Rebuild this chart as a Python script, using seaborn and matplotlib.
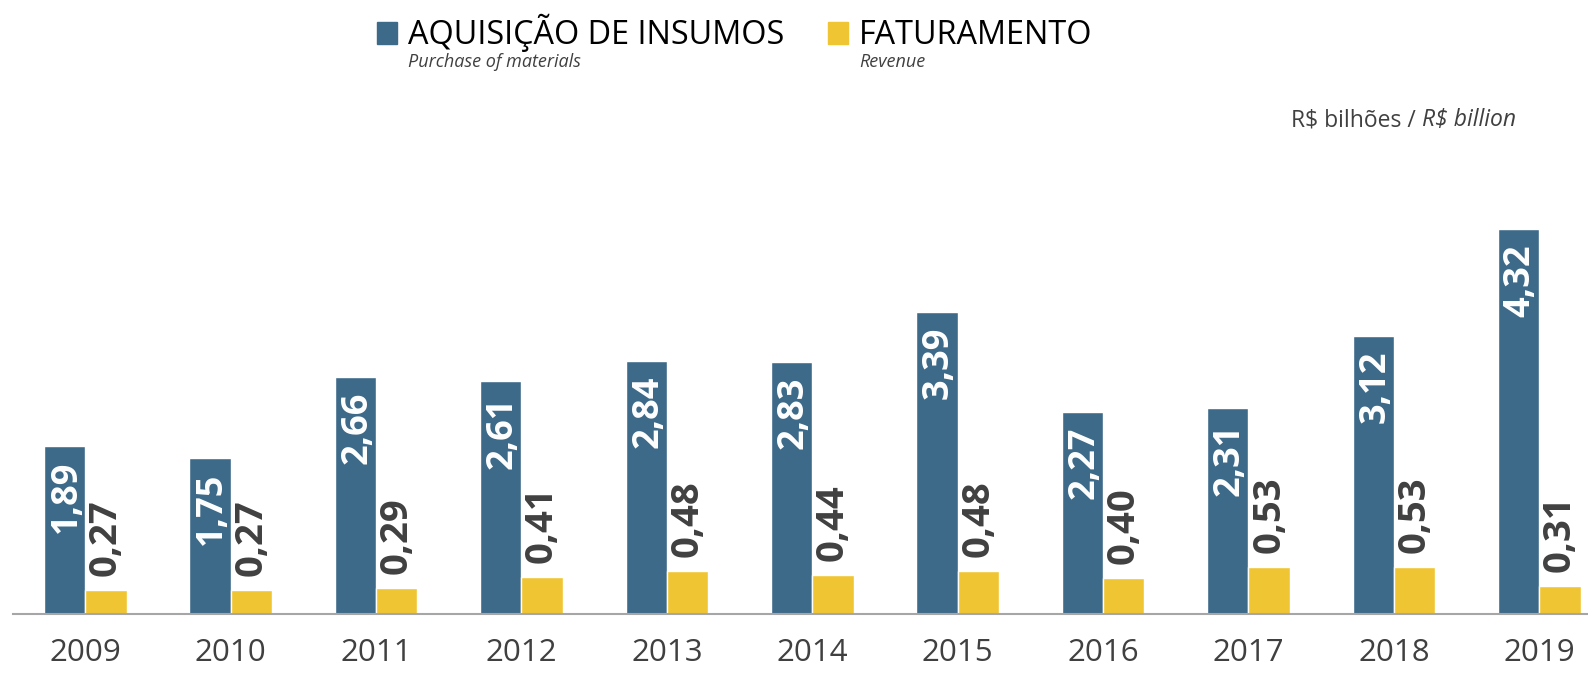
"""Bar chart: aquisição de insumos vs faturamento, 2009-2019."""

import matplotlib

matplotlib.use("Agg")
import matplotlib.pyplot as plt
import pandas as pd
import seaborn as sns
from matplotlib.patches import Rectangle

YEARS = ["2009", "2010", "2011", "2012", "2013", "2014", "2015", "2016", "2017", "2018", "2019"]
AQUISICAO = [1.89, 1.75, 2.66, 2.61, 2.84, 2.83, 3.39, 2.27, 2.31, 3.12, 4.32]
FATURAMENTO = [0.27, 0.27, 0.29, 0.41, 0.48, 0.44, 0.48, 0.40, 0.53, 0.53, 0.31]
SERIES = ["AQUISIÇÃO DE INSUMOS", "FATURAMENTO"]
SUBTITLES = ["Purchase of materials", "Revenue"]

BLUE = "#3E6A89"
YELLOW = "#F0C533"
DARK = "#404040"
W, H = 1588, 678


def fmt(value: float) -> str:
    return f"{value:.2f}".replace(".", ",")


def main() -> None:
    sns.set_theme(style="white")
    plt.rcParams["font.family"] = ["Open Sans", "DejaVu Sans"]

    df = pd.DataFrame(
        {
            "year": YEARS * 2,
            "value": AQUISICAO + FATURAMENTO,
            "serie": [SERIES[0]] * len(YEARS) + [SERIES[1]] * len(YEARS),
        }
    )

    fig = plt.figure(figsize=(W / 100, H / 100), dpi=100)
    ax = fig.add_axes([13 / W, (H - 614) / H, (W - 13) / W, 445.5 / H])

    sns.barplot(
        data=df,
        x="year",
        y="value",
        hue="serie",
        palette=[BLUE, YELLOW],
        width=0.568,
        gap=0,
        saturation=1,
        legend=False,
        ax=ax,
    )

    ax.set_xlim(-0.497, 10.335)
    ax.set_ylim(0, 5)
    ax.set_xlabel("")
    ax.set_ylabel("")
    ax.set_yticks([])
    for side in ["left", "right", "top"]:
        ax.spines[side].set_visible(False)
    ax.spines["bottom"].set_color("#A6A6A6")
    ax.spines["bottom"].set_linewidth(1.5)
    # pad kept small enough that the label box stays inside the canvas
    ax.tick_params(axis="x", length=0, pad=17, labelsize=22.5, labelcolor=DARK)

    blue_bars, yellow_bars = ax.containers
    for patch, value in zip(blue_bars, AQUISICAO):
        ax.annotate(
            fmt(value),
            (patch.get_x() + patch.get_width() / 2, patch.get_height()),
            xytext=(2, -15),
            textcoords="offset pixels",
            rotation=90,
            ha="center",
            va="top",
            color="white",
            fontsize=26,
            fontweight="bold",
        )
    for patch, value in zip(yellow_bars, FATURAMENTO):
        ax.annotate(
            fmt(value),
            (patch.get_x() + patch.get_width() / 2, patch.get_height()),
            xytext=(0, 14),
            textcoords="offset pixels",
            rotation=90,
            ha="center",
            va="bottom",
            color=DARK,
            fontsize=27.5,
            fontweight="bold",
        )

    # legend drawn by hand: square, title, italic english subtitle
    legend_x = [377, 828]
    for x0, colour, name, sub in zip(legend_x, [BLUE, YELLOW], SERIES, SUBTITLES):
        fig.add_artist(
            Rectangle((x0 / W, (H - 44) / H), 20 / W, 22 / H,
                      transform=fig.transFigure, color=colour)
        )
        fig.text((x0 + 31) / W, (H - 44) / H, name, fontsize=23.3,
                 color="black", ha="left", va="baseline")
        fig.text((x0 + 31) / W, (H - 67) / H, sub, fontsize=13,
                 style="italic", color=DARK, ha="left", va="baseline")

    unit = fig.text(1291 / W, (H - 126) / H, "R$ bilhões / ", fontsize=16.5,
                    color=DARK, ha="left", va="baseline")
    ax.annotate("R$ billion", xy=(1, 0), xycoords=unit, fontsize=16.5,
                style="italic", color=DARK, ha="left", va="bottom",
                annotation_clip=False)

    fig.savefig("out.png", dpi=100)
    plt.close(fig)


if __name__ == "__main__":
    main()
